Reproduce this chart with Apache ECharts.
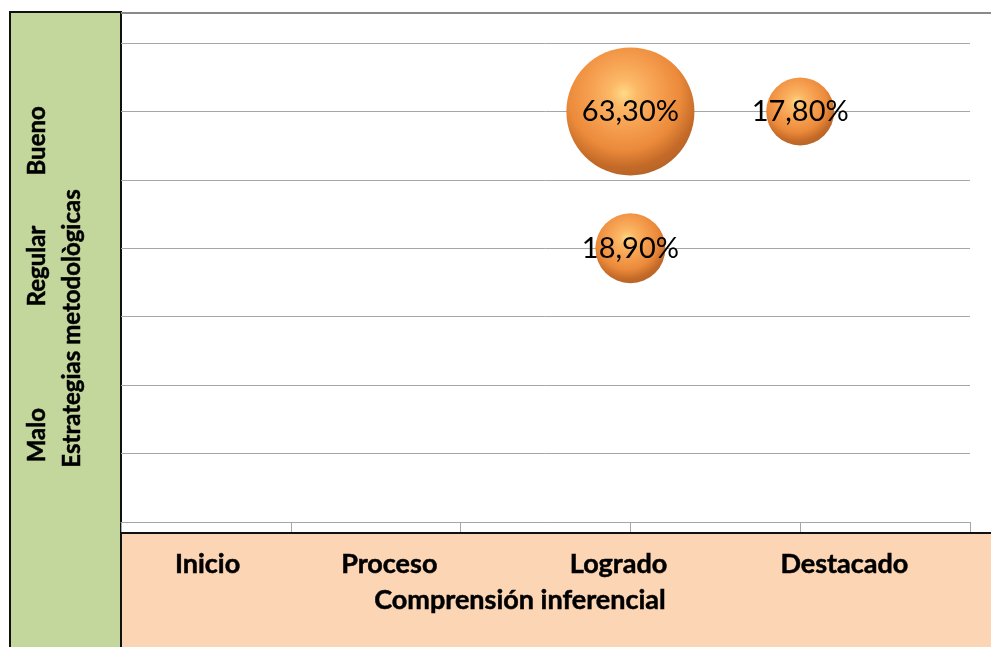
<!DOCTYPE html>
<html><head><meta charset="utf-8">
<script src="https://cdn.jsdelivr.net/npm/echarts@6/dist/echarts.min.js"></script>
<style>html,body{margin:0;padding:0;background:#fff}#c{width:991px;height:647px}</style>
</head><body><div id="c"></div>
<script>
// ---- data ----
const xCategories = ['Inicio', 'Proceso', 'Logrado', 'Destacado'];
const yCategories = ['Malo', 'Regular', 'Bueno'];
const bubbleX = [3, 4, 3];          // Logrado, Destacado, Logrado
const bubbleY = [6, 6, 4];          // Bueno, Bueno, Regular
const bubblePct = [63.3, 17.8, 18.9];
const xAxisName = 'Comprensión inferencial';
const yAxisName = 'Estrategias metodològicas';
// ---- label anchors in axis units (layout) ----
const xLabelAt = [0.51, 1.58, 2.93, 4.26];
const yLabelAt = [1.27, 3.74, 5.57];

const FONT = 'Lato';
function pick(arr, at, v) {
  let best = 0, d = 1e9;
  at.forEach((p, i) => { const dd = Math.abs(p - v); if (dd < d) { d = dd; best = i; } });
  return d < 1e-3 ? arr[best] : '';
}
const data = bubbleX.map((x, i) => [x, bubbleY[i], bubblePct[i]]);
const sphere = {
  type: 'radial', x: 0.45, y: 0.36, r: 0.68,
  colorStops: [
    { offset: 0, color: '#FFDA88' },
    { offset: 0.16, color: '#FBB866' },
    { offset: 0.42, color: '#F59D4E' },
    { offset: 0.65, color: '#EB8A3A' },
    { offset: 0.85, color: '#C46A28' },
    { offset: 1, color: '#B06229' }
  ]
};
const boldText = { fontFamily: FONT, fontWeight: 'bold', color: '#000', textBorderColor: '#000', textBorderWidth: 0.5 };

const chart = echarts.init(document.getElementById('c'), null, { renderer: 'canvas' });
chart.setOption({
  animation: false,
  backgroundColor: '#ffffff',
  graphic: [
    { type: 'rect', z: -10, shape: { x: 10, y: 12, width: 111, height: 640 },
      style: { fill: '#C3D69B', stroke: '#111', lineWidth: 2 } },
    { type: 'rect', z: -10, shape: { x: 121, y: 533, width: 875, height: 120 },
      style: { fill: '#FCD5B4', stroke: '#111', lineWidth: 2 } },
    { type: 'line', z: -5, shape: { x1: 121, y1: 13, x2: 991, y2: 13 },
      style: { stroke: '#8A8A8A', lineWidth: 2 } }
  ],
  grid: { left: 121, right: 21, top: 43, bottom: 125, containLabel: false },
  xAxis: {
    type: 'value', min: 0, max: 5, interval: 1,
    axisLine: { show: true, lineStyle: { color: '#A6A6A6', width: 1 } },
    axisTick: { show: true, length: 10, lineStyle: { color: '#A6A6A6' } },
    splitLine: { show: false },
    axisLabel: Object.assign({
      customValues: xLabelAt, margin: 29, fontSize: 27,
      formatter: v => pick(xCategories, xLabelAt, v)
    }, boldText),
    name: xAxisName, nameLocation: 'middle', nameGap: 65, nameMoveOverlap: false,
    nameTextStyle: Object.assign({ fontSize: 27, padding: [0, 51, 0, 0] }, boldText)
  },
  yAxis: {
    type: 'value', min: 0, max: 7, interval: 1,
    axisLine: { show: false }, axisTick: { show: false },
    splitLine: { show: true, lineStyle: { color: '#A6A6A6', width: 1 } },
    axisLabel: Object.assign({
      customValues: yLabelAt, margin: 72, rotate: 90, fontSize: 24,
      formatter: v => pick(yCategories, yLabelAt, v)
    }, boldText),
    name: yAxisName, nameLocation: 'middle', nameRotate: 90, nameGap: 37, nameMoveOverlap: false,
    nameTextStyle: Object.assign({ fontSize: 24, padding: [0, 92, 0, 0] }, boldText)
  },
  series: [{
    type: 'scatter',
    data: data,
    symbolSize: d => 16.1 * Math.sqrt(d[2]),
    itemStyle: { color: sphere, opacity: 1 },
    label: {
      show: true, position: 'inside',
      fontFamily: FONT, fontSize: 29, color: '#000',
      formatter: p => p.data[2].toFixed(2).replace('.', ',') + '%'
    },
    z: 5
  }]
});
</script></body></html>
